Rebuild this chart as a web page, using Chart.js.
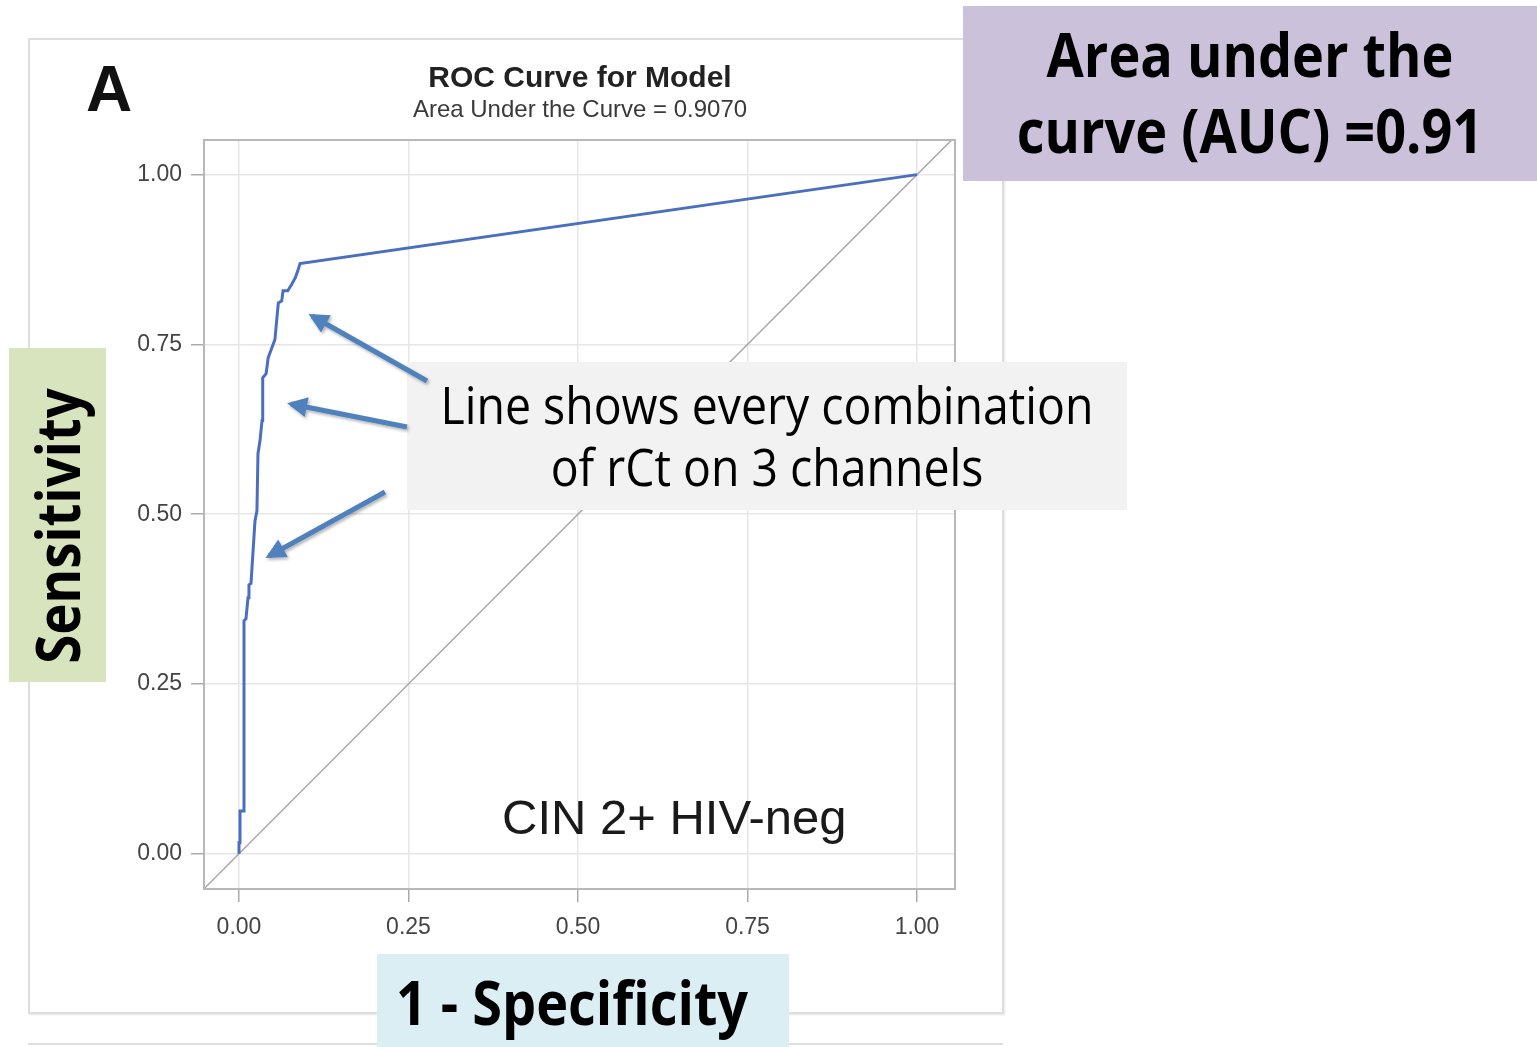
<!DOCTYPE html>
<html>
<head>
<meta charset="utf-8">
<script src="https://cdn.jsdelivr.net/npm/chart.js@4.4.1/dist/chart.umd.min.js"></script>
<style>
  html, body { margin: 0; padding: 0; background: #fff; }
  #wrap { position: relative; width: 1537px; height: 1047px; overflow: hidden; }
  #roc { position: absolute; left: 0; top: 0; }
  .box { position: absolute; }
  .ppt { font-family: "Open Sans", sans-serif; color: #000; text-align: center; }
  .sas { font-family: "Liberation Sans", Arial, sans-serif; position: absolute; white-space: nowrap; }
</style>
</head>
<body>
<div id="wrap">
  <!-- panel frame behind the plot -->
  <div class="box" style="left:28px;top:38px;width:972px;height:972px;border:2px solid #dedede;box-shadow:1px 1px 2px #e6e6e6;"></div>
  <div class="box" style="left:28px;top:1043px;width:975px;height:0;border-top:2px solid #dedede;"></div>

  <canvas id="roc" width="1537" height="1047"></canvas>

  <div class="sas" style="left:86px;top:52px;font-size:64px;font-weight:bold;color:#111;">A</div>
  <div class="sas" style="left:380px;width:400px;text-align:center;top:60px;font-size:30px;font-weight:bold;color:#222;">ROC Curve for Model</div>
  <div class="sas" style="left:380px;width:400px;text-align:center;top:95px;font-size:24px;color:#3a3a3a;">Area Under the Curve = 0.9070</div>
  <div class="sas" style="left:502px;top:789px;font-size:49px;color:#1a1a1a;">CIN 2+ HIV-neg</div>

  <!-- callout boxes -->
  <div class="box ppt" style="left:963px;top:6px;width:574px;height:175px;background:#ccc1da;font-weight:bold;font-size:60px;line-height:76px;">
    <div style="transform:scaleX(0.9);padding-top:10px;">Area under the<br>curve (AUC) =0.91</div>
  </div>
  <div class="box ppt" style="left:9px;top:348px;width:97px;height:334px;background:#d7e4bd;">
    <div style="position:absolute;left:48px;top:178px;transform:translate(-50%,-50%) rotate(-90deg) scaleX(0.88);font-weight:bold;font-size:60px;white-space:nowrap;">Sensitivity</div>
  </div>
  <div class="box ppt" style="left:377px;top:954px;width:412px;height:93px;background:#dbeef4;font-weight:bold;font-size:60px;line-height:93px;">
    <div style="transform:scaleX(0.9);margin-top:2px;margin-left:-22px;">1 - Specificity</div>
  </div>
  <div class="box ppt" style="left:407px;top:362px;width:720px;height:148px;background:#f2f2f2;font-size:51px;line-height:62px;">
    <div style="transform:scaleX(0.91);padding-top:11px;">Line shows every combination<br>of rCt on 3 channels</div>
  </div>

  <svg class="box" style="left:0;top:0;" width="1537" height="1047">
    <defs>
      <marker id="head" viewBox="0 0 10 10" refX="8" refY="5" markerWidth="4.5" markerHeight="4" orient="auto">
        <path d="M0,0 L10,5 L0,10 z" fill="#4f81bd"/>
      </marker>
      <filter id="shade" x="-20%" y="-20%" width="140%" height="140%">
        <feDropShadow dx="1.5" dy="2" stdDeviation="1.5" flood-color="#000" flood-opacity="0.3"/>
      </filter>
    </defs>
    <g stroke="#4f81bd" stroke-width="5" fill="none" marker-end="url(#head)" filter="url(#shade)">
      <line x1="427" y1="381" x2="312" y2="316"/>
      <line x1="407" y1="427" x2="291" y2="404"/>
      <line x1="385" y1="492" x2="269" y2="556"/>
    </g>
  </svg>
</div>

<script>
// ROC curve: x = 1 - specificity, y = sensitivity
const fprValues = [0, 0, 0.0015, 0.0015, 0.0074, 0.0074, 0.0103, 0.0133, 0.0147, 0.0177,
  0.0236, 0.0265, 0.028, 0.031, 0.034, 0.035, 0.040, 0.043, 0.047, 0.053,
  0.058, 0.063, 0.065, 0.072, 0.078, 0.083, 0.087, 0.090, 1];
const tprValues = [0, 0.016, 0.016, 0.063, 0.063, 0.343, 0.346, 0.377, 0.396, 0.398,
  0.490, 0.505, 0.589, 0.608, 0.638, 0.701, 0.707, 0.730, 0.741, 0.757,
  0.811, 0.814, 0.829, 0.829, 0.839, 0.848, 0.859, 0.869, 1];

// chance diagonal
const refX = [-0.1, 1.1];
const refY = [-0.1, 1.1];

const tickValues = [0, 0.25, 0.5, 0.75, 1];

const toPoints = (xs, ys) => xs.map((x, i) => ({ x: x, y: ys[i] }));

Chart.defaults.font.family = '"Liberation Sans", Arial, sans-serif';

// full box round the plot area (Chart.js only draws the axis sides)
const frameBox = {
  id: 'frameBox',
  afterDraw(chart) {
    const a = chart.chartArea, ctx = chart.ctx;
    ctx.save();
    ctx.strokeStyle = '#b8b8b8';
    ctx.lineWidth = 2;
    ctx.strokeRect(a.left, a.top, a.right - a.left, a.bottom - a.top);
    ctx.restore();
  }
};

const axisStyle = (w, h, pad) => ({
  type: 'linear',
  afterBuildTicks: s => { s.ticks = tickValues.map(v => ({ value: v })); },
  afterFit: s => { if (w) s.width = w; if (h) s.height = h; },
  ticks: {
    callback: v => Number(v).toFixed(2),
    color: '#444',
    font: { size: 23 },
    padding: pad
  },
  grid: {
    color: '#e6e6e6',
    lineWidth: 1.5,
    tickColor: '#aaa',
    tickLength: 13
  },
  border: { display: false }
});

const xAxis = Object.assign(axisStyle(0, 62, 12), { min: -0.0516, max: 1.056 });
const yAxis = Object.assign(axisStyle(104, 0, 9), { min: -0.052, max: 1.051 });

new Chart(document.getElementById('roc'), {
  type: 'scatter',
  data: {
    datasets: [
      {
        label: 'Chance',
        data: toPoints(refX, refY),
        showLine: true,
        borderColor: '#a8a8a8',
        borderWidth: 1.5,
        pointRadius: 0,
        order: 2
      },
      {
        label: 'ROC',
        data: toPoints(fprValues, tprValues),
        showLine: true,
        borderColor: '#4a6fc0',
        borderWidth: 3,
        pointRadius: 0,
        tension: 0,
        order: 1
      }
    ]
  },
  options: {
    responsive: false,
    animation: false,
    layout: { padding: { left: 100, right: 582, top: 140, bottom: 96 } },
    plugins: { legend: { display: false }, tooltip: { enabled: false } },
    scales: { x: xAxis, y: yAxis }
  },
  plugins: [frameBox]
});
</script>
</body>
</html>
